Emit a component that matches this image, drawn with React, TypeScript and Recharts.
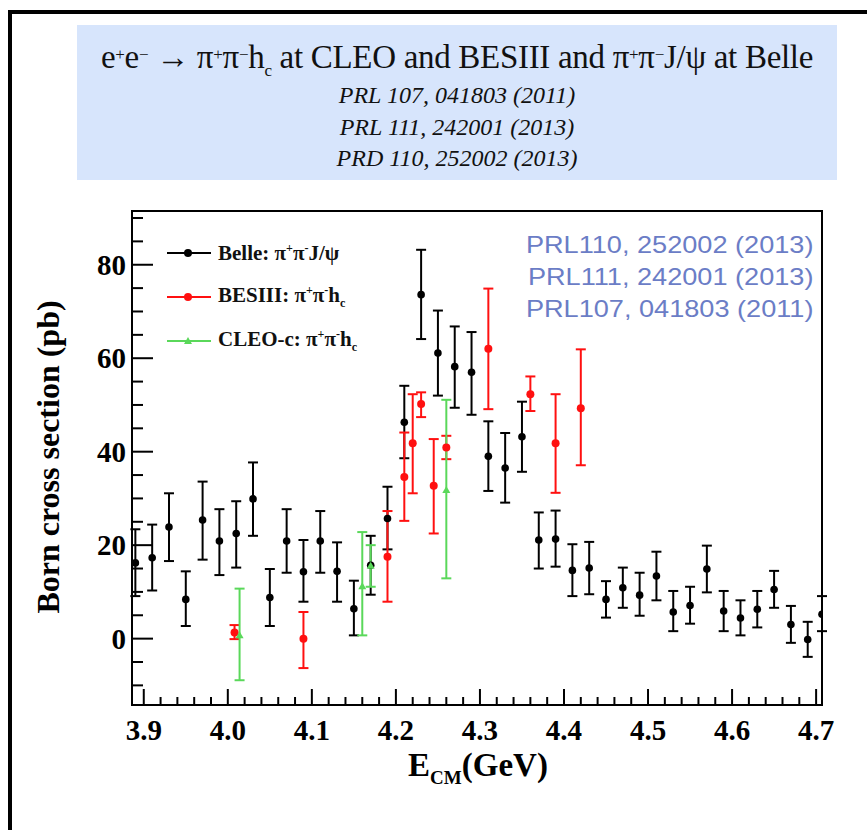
import {
  ScatterChart,
  Scatter,
  XAxis,
  YAxis,
  ErrorBar,
  ReferenceArea,
} from "recharts";

// Belle: pi+ pi- J/psi  (E in GeV, sigma in pb, lower / upper edge of error bar)
const BELLE_E = [
  3.89, 3.91, 3.93, 3.95, 3.97, 3.99, 4.01, 4.03, 4.05, 4.07, 4.09, 4.11, 4.13, 4.15,
  4.17, 4.19, 4.21, 4.23, 4.25, 4.27, 4.29, 4.31, 4.33, 4.35, 4.37, 4.39, 4.41, 4.43,
  4.45, 4.47, 4.49, 4.51, 4.53, 4.55, 4.57, 4.59, 4.61, 4.63, 4.65, 4.67, 4.69, 4.707,
];
const BELLE_XS = [
  16.2, 17.3, 23.9, 8.4, 25.4, 20.9, 22.5, 29.9, 8.8, 20.9, 14.3, 20.9, 14.4, 6.4,
  15.7, 25.7, 46.3, 73.6, 61.1, 58.2, 57.0, 39.0, 36.5, 43.2, 21.1, 21.3, 14.6, 15.1,
  8.4, 10.9, 9.3, 13.4, 5.7, 7.1, 14.9, 5.9, 4.4, 6.3, 10.5, 3.0, -0.2, 5.2,
];
const BELLE_LO = [
  9.1, 10.3, 16.6, 2.7, 16.9, 13.6, 15.2, 22.0, 2.7, 14.1, 7.9, 14.1, 7.9, 0.7,
  9.4, 19.1, 38.6, 64.1, 52.0, 49.4, 47.9, 31.6, 29.1, 35.7, 15.0, 15.4, 9.1, 9.5,
  4.5, 6.6, 4.9, 8.2, 1.6, 3.2, 9.9, 1.6, 0.7, 2.4, 6.6, -0.9, -3.9, 1.6,
];
const BELLE_HI = [
  23.4, 24.4, 31.1, 14.4, 33.6, 27.7, 29.4, 37.7, 14.9, 27.7, 21.1, 27.3, 20.6, 12.4,
  22.0, 32.5, 54.1, 83.2, 70.2, 66.8, 65.6, 46.5, 44.0, 50.7, 27.0, 27.4, 20.2, 20.7,
  12.3, 15.2, 14.1, 18.6, 10.2, 11.1, 19.9, 10.2, 8.2, 10.2, 14.5, 7.0, 3.6, 9.1,
];

// BESIII: pi+ pi- h_c
const BES_E = [4.008, 4.09, 4.19, 4.21, 4.22, 4.23, 4.245, 4.26, 4.31, 4.36, 4.39, 4.42];
const BES_XS = [1.3, 0.0, 17.5, 34.6, 41.8, 50.2, 32.7, 40.9, 62.0, 52.3, 41.8, 49.3];
const BES_LO = [-0.1, -6.3, 7.9, 25.2, 31.1, 47.4, 22.5, 38.4, 49.1, 48.7, 31.2, 37.1];
const BES_HI = [2.9, 5.7, 27.3, 44.1, 52.3, 52.7, 42.7, 43.4, 74.9, 56.1, 52.3, 61.9];

// CLEO-c: pi+ pi- h_c
const CLEO_E = [4.014, 4.16, 4.17, 4.26];
const CLEO_XS = [0.7, 11.2, 15.6, 31.8];
const CLEO_LO = [-8.9, 0.7, 11.1, 12.9];
const CLEO_HI = [10.7, 22.8, 20.0, 51.1];

const X_MAJOR = [3.9, 4.0, 4.1, 4.2, 4.3, 4.4, 4.5, 4.6, 4.7];
const Y_MAJOR = [0, 20, 40, 60, 80];
const PUBS = ["PRL110, 252002 (2013)", "PRL111, 242001 (2013)", "PRL107, 041803 (2011)"];
const TITLE_REFS = ["PRL 107, 041803 (2011)", "PRL 111, 242001 (2013)", "PRD 110, 252002 (2013)"];

const X_DOMAIN: [number, number] = [3.886, 4.707];
const Y_DOMAIN: [number, number] = [-14.2, 91.5];

const X_TICKS: number[] = [];
for (let i = 0; i <= 40; i++) X_TICKS.push(Math.round((3.9 + i * 0.02) * 100) / 100);
const Y_TICKS: number[] = [];
for (let v = -10; v <= 90; v += 5) Y_TICKS.push(v);

const build = (e: number[], v: number[], lo: number[], hi: number[]) =>
  e.map((x, i) => ({ x, y: v[i], err: [v[i] - lo[i], hi[i] - v[i]] }));

const belle = build(BELLE_E, BELLE_XS, BELLE_LO, BELLE_HI);
const bes = build(BES_E, BES_XS, BES_LO, BES_HI);
const cleo = build(CLEO_E, CLEO_XS, CLEO_LO, CLEO_HI);

const SERIF = "'Liberation Serif', 'DejaVu Serif', serif";
const SANS = "'Liberation Sans', Arial, sans-serif";
const GREEN = "#5ad85a";
const RED = "#ff1010";

const XTick = (props: any) => {
  const { x, y, payload } = props;
  const v = payload.value;
  const major = X_MAJOR.some((m) => Math.abs(m - v) < 1e-6);
  return (
    <g>
      <line x1={x} x2={x} y1={y} y2={y - (major ? 16 : 8)} stroke="#000" strokeWidth={2} />
      {major && (
        <text x={x} y={y + 35} textAnchor="middle" fontFamily={SERIF} fontWeight="bold" fontSize={29} fill="#000">
          {v.toFixed(1)}
        </text>
      )}
    </g>
  );
};

const YTick = (props: any) => {
  const { x, y, payload } = props;
  const v = payload.value;
  const major = Y_MAJOR.includes(v);
  return (
    <g>
      <line x1={x} x2={x + (major ? 21 : 11)} y1={y} y2={y} stroke="#000" strokeWidth={2} />
      {major && (
        <text x={x - 6} y={y + 10} textAnchor="end" fontFamily={SERIF} fontWeight="bold" fontSize={29} fill="#000">
          {v}
        </text>
      )}
    </g>
  );
};

const dot = (color: string, r: number) => (p: any) => <circle cx={p.cx} cy={p.cy} r={r} fill={color} />;
const tri = (color: string) => (p: any) => (
  <polygon points={`${p.cx},${p.cy - 4} ${p.cx - 4},${p.cy + 3} ${p.cx + 4},${p.cy + 3}`} fill={color} />
);

const legendRows = [
  { label: "Belle: ", tail: "J/ψ", color: "#000", sub: "" },
  { label: "BESIII: ", tail: "h", color: RED, sub: "c" },
  { label: "CLEO-c: ", tail: "h", color: GREEN, sub: "c" },
];

const sup = (s: string, size = 17) => <sup style={{ fontSize: size, verticalAlign: "0.5em", lineHeight: 0 }}>{s}</sup>;

export default function App() {
  return (
    <div style={{ position: "absolute", left: 0, top: 0, width: 867, height: 830, background: "#fff", overflow: "hidden" }}>
      {/* page frame */}
      <div style={{ position: "absolute", left: 8, top: 10, width: 4, height: 820, background: "#000" }} />
      <div style={{ position: "absolute", left: 8, top: 10, width: 859, height: 4, background: "#000" }} />

      {/* title box */}
      <div
        style={{
          position: "absolute",
          left: 77,
          top: 25,
          width: 760,
          height: 155,
          background: "#d7e5fc",
          fontFamily: SERIF,
          color: "#111",
          textAlign: "center",
        }}
      >
        <div style={{ position: "absolute", left: 0, right: 0, top: 14, fontSize: 33, lineHeight: "36px", letterSpacing: -0.3, whiteSpace: "nowrap" }}>
          e{sup("+")}e{sup("−")} → π{sup("+")}π{sup("−")}h<sub style={{ fontSize: 17, lineHeight: 0 }}>c</sub> at CLEO and BESIII and π{sup("+")}π
          {sup("−")}J/ψ at Belle
        </div>
        <div style={{ position: "absolute", left: 0, right: 0, top: 55 }}>
          {TITLE_REFS.map((t) => (
            <div key={t} style={{ fontSize: 24, fontStyle: "italic", lineHeight: "31.5px" }}>
              {t}
            </div>
          ))}
        </div>
      </div>

      <div style={{ position: "absolute", left: 0, top: 0 }}>
        <ScatterChart width={867} height={830} margin={{ top: 211, right: 45, left: 52, bottom: 65 }}>
          <XAxis
            type="number"
            dataKey="x"
            domain={X_DOMAIN}
            allowDataOverflow
            ticks={X_TICKS}
            interval={0}
            height={60}
            tickSize={0}
            tickMargin={0}
            axisLine={false}
            tick={XTick}
          />
          <YAxis
            type="number"
            dataKey="y"
            domain={Y_DOMAIN}
            allowDataOverflow
            ticks={Y_TICKS}
            interval={0}
            width={80}
            tickSize={0}
            tickMargin={0}
            axisLine={false}
            tick={YTick}
          />
          <ReferenceArea
            x1={X_DOMAIN[0]}
            x2={X_DOMAIN[1]}
            y1={Y_DOMAIN[0]}
            y2={Y_DOMAIN[1]}
            fill="none"
            stroke="#000"
            strokeWidth={2}
            fillOpacity={0}
          />
          <Scatter data={belle} shape={dot("#000", 3.8)} isAnimationActive={false}>
            <ErrorBar dataKey="err" direction="y" width={5} stroke="#000" strokeWidth={2} isAnimationActive={false} />
          </Scatter>
          <Scatter data={bes} shape={dot(RED, 4)} isAnimationActive={false}>
            <ErrorBar dataKey="err" direction="y" width={5} stroke={RED} strokeWidth={2} isAnimationActive={false} />
          </Scatter>
          <Scatter data={cleo} shape={tri(GREEN)} isAnimationActive={false}>
            <ErrorBar dataKey="err" direction="y" width={5} stroke={GREEN} strokeWidth={2} isAnimationActive={false} />
          </Scatter>
        </ScatterChart>
      </div>

      {/* y label */}
      <div
        style={{
          position: "absolute",
          left: 48,
          top: 457,
          transform: "translate(-50%, -50%) rotate(-90deg)",
          whiteSpace: "nowrap",
          fontFamily: SERIF,
          fontWeight: "bold",
          fontSize: 32,
          color: "#000",
        }}
      >
        Born cross section (pb)
      </div>

      {/* x label */}
      <div
        style={{
          position: "absolute",
          left: 478,
          top: 768,
          transform: "translate(-50%, -50%)",
          whiteSpace: "nowrap",
          fontFamily: SERIF,
          fontWeight: "bold",
          fontSize: 33,
          color: "#000",
        }}
      >
        E<sub style={{ fontSize: 19 }}>CM</sub>(GeV)
      </div>

      {/* legend */}
      {legendRows.map((r, i) => (
        <div key={r.label} style={{ position: "absolute", left: 165, top: 253 + i * 44 - 14, height: 28, display: "flex", alignItems: "center" }}>
          <svg width={48} height={28}>
            <line x1={2} x2={46} y1={14} y2={14} stroke={r.color} strokeWidth={2} />
            {i === 2 ? (
              <polygon points="23,10 19,17 27,17" fill={r.color} />
            ) : (
              <circle cx={23} cy={14} r={4} fill={r.color} />
            )}
          </svg>
          <span style={{ marginLeft: 5, fontFamily: SERIF, fontWeight: "bold", fontSize: 21, color: "#111", whiteSpace: "nowrap" }}>
            {r.label}π<sup style={{ fontSize: 12 }}>+</sup>π<sup style={{ fontSize: 12 }}>-</sup>
            {r.tail}
            {r.sub && <sub style={{ fontSize: 12 }}>{r.sub}</sub>}
          </span>
        </div>
      ))}

      {/* references, top right */}
      <div
        style={{
          position: "absolute",
          right: 867 - 813,
          top: 229,
          textAlign: "right",
          fontFamily: SANS,
          fontSize: 24,
          lineHeight: "32px",
          color: "#6b7dc6",
          transform: "scaleX(1.13)",
          transformOrigin: "right center",
        }}
      >
        {PUBS.map((p) => (
          <div key={p}>{p}</div>
        ))}
      </div>
    </div>
  );
}
